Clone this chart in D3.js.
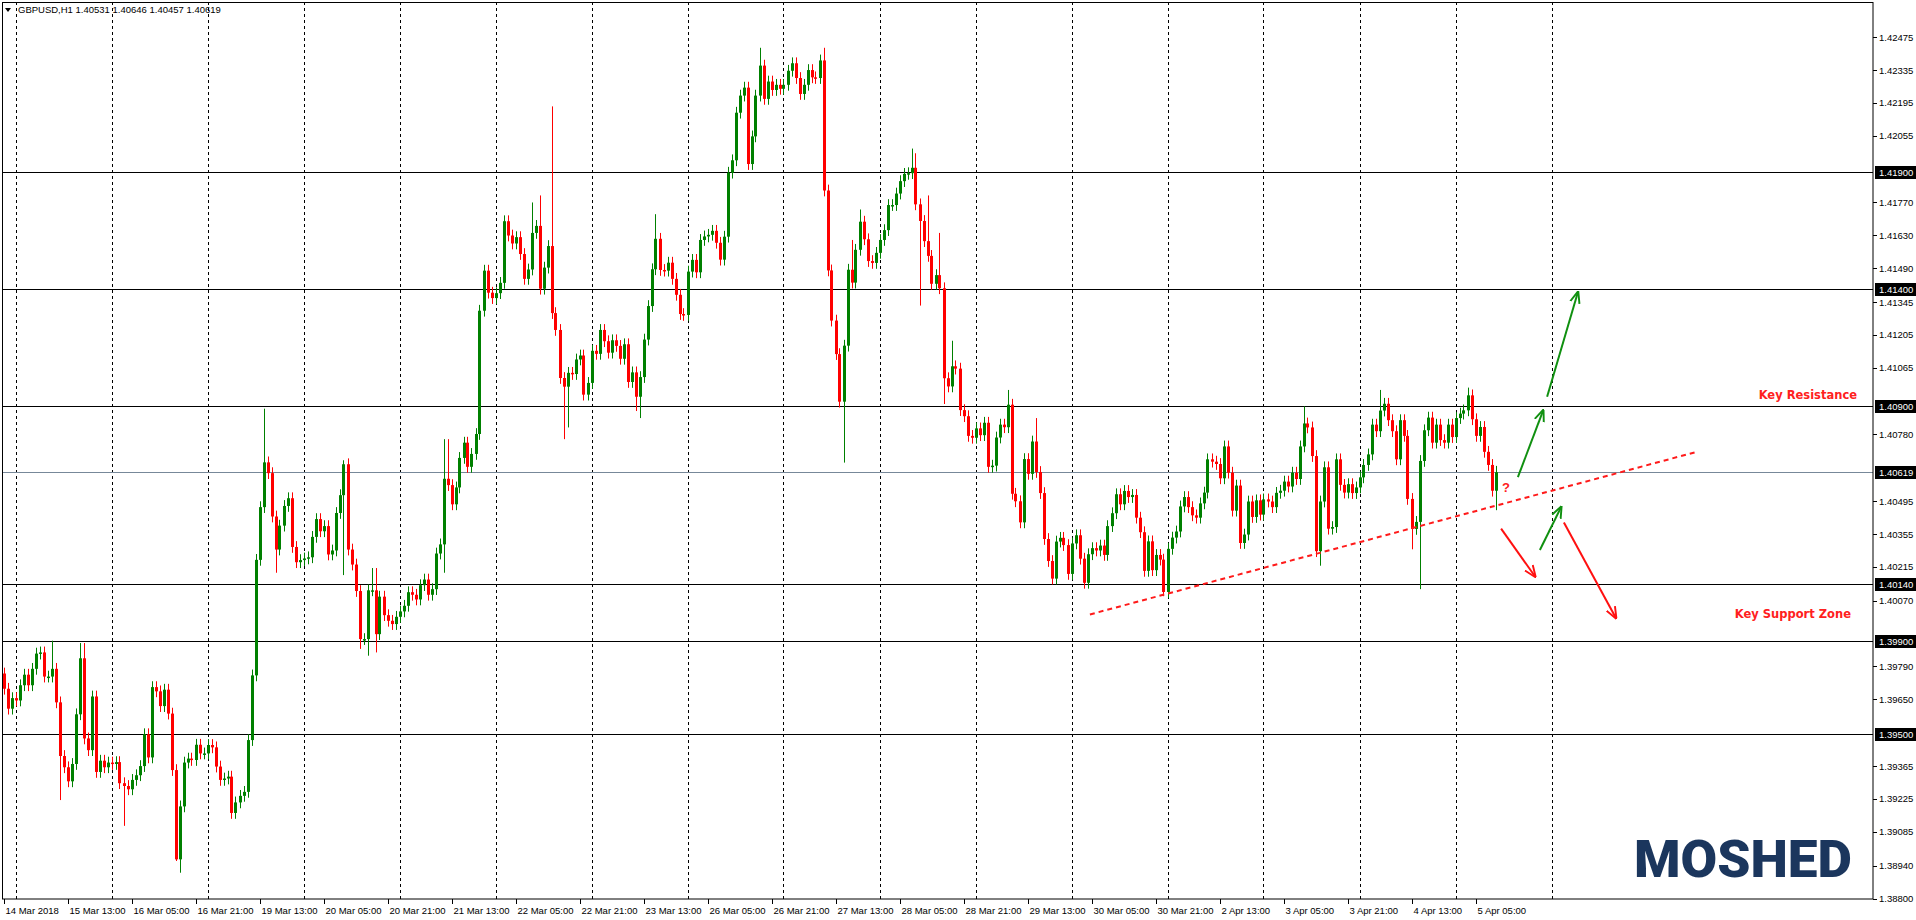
<!DOCTYPE html>
<html>
<head>
<meta charset="utf-8">
<script src="https://cdn.jsdelivr.net/npm/d3@7/dist/d3.min.js"></script>
<style>
  body { margin: 0; background: #fff; }
  svg { display: block; }
</style>
</head>
<body>
<div id="display"></div>
<script>
// GBPUSD H1 closes, in pips above 1.39000 (open = previous close)
const BASE = 1.39;
const firstOpen = 76;
const closesA = [69.5,61,65.5,64.5,71,75.5,71,78,84.5,85,74.7,74.7,78,63.7,40.8,36,30,37.4,58.6,82.5,
  48.3,43.3,66.2,34,38.8,36,38,37.4,38.2,29.2,28,26.6,30.6,32.6,36.5,50.1,40.2,70.2,68.4,62.1,
  69.1,58.9,34.8,-3.3,19.3,38,39.7,39.1,45.6,41.9,41.9,45.5,44.5,36.3,30.6,31.2,32,16.5,21,23.8,
  25.5,47.6,75.2,124.5,147,166.1,161.5,143,128.9,139.1,147.5,150.8,130,123.5,124.4,125.1,125.6,134.3,141.9,136.7,
  138.9,126.8,128.5,144.5,152.1,165.3,128.9,122.5,111.2,90.7,90.7,111.5,111.5,92.8,108.8,100.9,98.5,97.1,100.2,102.5];
const closesB = [104.9,110.7,109.6,107.6,113.7,116.1,109.6,112,127.2,131.1,159.1,156.4,148.2,155.4,168,174.5,164.2,169.7,178.2,230.8,
  247.9,238.5,236.2,238.3,242.7,269,262.9,259.5,262.2,255,244.4,248.4,264,267,240.2,249.2,258.4,229.8,222.6,202.1,
  198.4,204.3,203.8,210,211.7,195,200,213.7,212.4,222.6,217.8,212.9,218.2,215.8,210.3,216.5,200.4,204.5,194.1,202.5,
  218.5,232.8,248.5,261.5,248.2,247.9,251.3,244.4,237.6,229.4,229,247.5,252.5,247.2,261,262.5,263.2,264.9,259.8,252.6,
  262.4,289.7,295,315.3,322.6,326,293.4,305.2,322.6,335.4,321.2,328.6,325,327.2,325.5,327.2,333.2];
const closesC = [336.4,330.1,323.3,327.2,333.5,330.4,330.1,337.6,282.1,248,226.6,212.3,192,215.9,248.3,242.8,256.8,268.8,261.3,252,
  251.2,255.5,261,265.2,275.9,275.9,280.8,286.1,289.2,289.5,291.8,276.2,269.1,260.5,254.2,242.3,246,240.4,202,198.5,
  207.1,206.1,188.4,185.8,177.4,176.6,180.6,177.7,183,164.2,164.7,176.7,182.2,181.1,190.7,152.7,149.5,140.5,167.5,161.2,
  175,162,153,133.4,124,116.5,132.3,133.9,130.8,118.5,131.5,135,125,114.7,126.9,129.5,128.5,130.6,126.6,138.9,
  144.4,152.5,148.2,153.9,151.3,152.2,142.5,136.3,119.8,132.4,120.1,126.6,124.6,110.8,129.2,134,136.6,147.3];
const closesD = [151.3,147,143.5,142.5,148.6,153.2,167.4,166.4,165.4,159.3,172.9,161.7,145.5,156.2,131.7,135.3,149.4,142.8,149.9,143.8,
  150.3,149.4,147,153.1,154,157.9,155.8,161.7,159,172.9,182.7,181,168.8,128.2,149.4,164,137.8,138.5,167.4,156.5,
  153.2,156.8,153,155.4,159.7,165,169.5,182.2,179.4,188.2,191.1,184.1,179.4,167.4,184.1,177.4,150.5,137.7,140.7,166.7,
  179.8,185.2,174.5,182.2,175.6,174.5,182.2,176.9,185,186.9,188.3,194.7,184.5,177.4,181.2,170.6,165,154,161.9];
// long wicks: [bar, high, low] in pips (null = ordinary wick)
const wicks = [[12,90,null],[14,null,22],[19,89,null],[20,89,null],[30,null,11],[43,null,-4],[44,null,-9],
  [65,189,null],[68,null,119],[85,167,118],[89,null,86.5],[91,null,83.6],[92,121,null],[93,121,85],
  [110,176,119],[111,176,null],[132,277,null],[134,280,null],[137,318,null],[140,null,176],[141,null,181],
  [158,null,188],[159,null,185],[163,272,null],[189,343,null],[205,343,null],[210,null,166],[212,261,null],
  [214,274,null],[227,300,null],[228,298,null],[229,null,233],[231,280,null],[234,264,null],[235,null,191],
  [237,218,null],[251,197,null],[258,185,null],[290,null,109],[325,190,null],[329,null,122],[344,197,null],
  [352,null,129],[354,null,112],[366,198,null],[373,164.6,145.7]];

const levels = [1.419, 1.414, 1.409, 1.4014, 1.399, 1.395];
const currentPrice = 1.40619;
const priceTicks = [1.42475,1.42335,1.42195,1.42055,1.41770,1.41630,1.41490,1.41345,1.41205,1.41065,
  1.40780,1.40495,1.40355,1.40215,1.40070,1.39790,1.39650,1.39365,1.39225,1.39085,1.38940,1.38800];
const timeLabels = ["14 Mar 2018","15 Mar 13:00","16 Mar 05:00","16 Mar 21:00","19 Mar 13:00","20 Mar 05:00",
  "20 Mar 21:00","21 Mar 13:00","22 Mar 05:00","22 Mar 21:00","23 Mar 13:00","26 Mar 05:00","26 Mar 21:00",
  "27 Mar 13:00","28 Mar 05:00","28 Mar 21:00","29 Mar 13:00","30 Mar 05:00","30 Mar 21:00","2 Apr 13:00",
  "3 Apr 05:00","3 Apr 21:00","4 Apr 13:00","5 Apr 05:00"];
// annotations: [bar, pips]
const trendline = [[271.6,101.2],[422.9,170.4]];
const greenArrows = [[[378.6,159.8],[384.9,188.2]],[[385.9,194.1],[393.6,238.7]],[[384.1,128.7],[389.4,147]]];
const redArrows = [[[374.4,137.8],[382.9,117.4]],[[390.1,140.4],[403.1,99.7]]];

const W = 1916, H = 920, R = 1873, B = 899;
const font = "'Liberation Sans', Arial, sans-serif";
const closes = closesA.concat(closesB, closesC, closesD);
const wickMap = new Map(wicks.map(w => [w[0], w]));
const bars = closes.map((c, i) => {
  const o = i === 0 ? firstOpen : closes[i - 1];
  const w = wickMap.get(i);
  const hi = w && w[1] != null ? w[1] : Math.max(o, c) + 2.5;
  const lo = w && w[2] != null ? w[2] : Math.min(o, c) - 2.5;
  return { i, o: BASE + o / 1e4, c: BASE + c / 1e4, h: BASE + hi / 1e4, l: BASE + lo / 1e4 };
});

const x = d3.scaleLinear().domain([0, 100]).range([3.5, 403.5]);
const y = d3.scaleLinear().domain([1.388, 1.419]).range([898.5, 172]);
const px = p => BASE + p / 1e4;

const svg = d3.select("#display").append("svg").attr("width", W).attr("height", H);
svg.append("defs").selectAll("marker").data([["g", "#109010"], ["r", "#ff1010"]]).join("marker")
  .attr("id", d => "ar" + d[0]).attr("viewBox", "0 0 10 10").attr("refX", 9).attr("refY", 5)
  .attr("markerWidth", 6).attr("markerHeight", 6).attr("orient", "auto")
  .append("path").attr("d", "M0,1 L10,5 L0,9").attr("fill", "none").attr("stroke", d => d[1]).attr("stroke-width", 1.6);

// grid (midnights)
const gridBars = d3.range(3, 400, 24).filter(b => x(b) < R);
svg.append("g").selectAll("line").data(gridBars).join("line")
  .attr("x1", d => Math.round(x(d)) + 0.5).attr("x2", d => Math.round(x(d)) + 0.5)
  .attr("y1", 2).attr("y2", B).attr("stroke", "#000").attr("stroke-dasharray", "3,3");

// horizontal levels
svg.append("g").selectAll("line").data(levels).join("line")
  .attr("x1", 2).attr("x2", R).attr("y1", d => Math.round(y(d)) + 0.5).attr("y2", d => Math.round(y(d)) + 0.5)
  .attr("stroke", "#000").attr("stroke-width", 1.2);
svg.append("line").attr("x1", 2).attr("x2", R)
  .attr("y1", Math.round(y(currentPrice)) + 0.5).attr("y2", Math.round(y(currentPrice)) + 0.5)
  .attr("stroke", "#778899");

// candles
const cg = svg.append("g");
cg.selectAll("line").data(bars).join("line")
  .attr("x1", d => Math.round(x(d.i)) + 0.5).attr("x2", d => Math.round(x(d.i)) + 0.5)
  .attr("y1", d => y(d.h)).attr("y2", d => y(d.l))
  .attr("stroke", d => d.c >= d.o ? "#008000" : "#ff0000");
cg.selectAll("rect").data(bars).join("rect")
  .attr("x", d => Math.round(x(d.i)) - 1).attr("width", 3)
  .attr("y", d => y(Math.max(d.o, d.c))).attr("height", d => Math.max(1.5, Math.abs(y(d.o) - y(d.c))))
  .attr("fill", d => d.c >= d.o ? "#008000" : "#ff0000");

// trendline and arrows
svg.append("line")
  .attr("x1", x(trendline[0][0])).attr("y1", y(px(trendline[0][1])))
  .attr("x2", x(trendline[1][0])).attr("y2", y(px(trendline[1][1])))
  .attr("stroke", "#ff1a1a").attr("stroke-width", 2).attr("stroke-dasharray", "5,4");
const drawArrows = (data, col, id) => svg.append("g").selectAll("line").data(data).join("line")
  .attr("x1", d => x(d[0][0])).attr("y1", d => y(px(d[0][1])))
  .attr("x2", d => x(d[1][0])).attr("y2", d => y(px(d[1][1])))
  .attr("stroke", col).attr("stroke-width", 2).attr("marker-end", `url(#ar${id})`);
drawArrows(greenArrows, "#109010", "g");
drawArrows(redArrows, "#ff1010", "r");
svg.append("text").attr("x", 1502).attr("y", 492).attr("fill", "#ff2020")
  .attr("font-family", font).attr("font-weight", "bold").attr("font-size", 13).text("?");

// annotations text
svg.append("text").attr("x", 1857).attr("y", 399).attr("text-anchor", "end").attr("fill", "#ff2020")
  .attr("font-family", "'DejaVu Sans', sans-serif").attr("font-weight", "bold").attr("font-size", 11.5).text("Key Resistance");
svg.append("text").attr("x", 1851).attr("y", 618).attr("text-anchor", "end").attr("fill", "#ff2020")
  .attr("font-family", "'DejaVu Sans', sans-serif").attr("font-weight", "bold").attr("font-size", 11.5).text("Key Support Zone");
svg.append("text").attr("x", 1634).attr("y", 877).attr("fill", "#1b365d")
  .attr("font-family", "Roboto, sans-serif").attr("font-weight", 900).attr("font-size", 51)
  .attr("textLength", 218).attr("lengthAdjust", "spacingAndGlyphs").text("MOSHED");

// frame
svg.append("rect").attr("x", 2.5).attr("y", 2.5).attr("width", R - 2.5).attr("height", B - 2.5)
  .attr("fill", "none").attr("stroke", "#000");

// right axis
const ra = svg.append("g");
ra.selectAll("line").data(priceTicks).join("line")
  .attr("x1", R).attr("x2", R + 4).attr("y1", d => Math.round(y(d)) + 0.5).attr("y2", d => Math.round(y(d)) + 0.5)
  .attr("stroke", "#000");
ra.selectAll("text").data(priceTicks).join("text")
  .attr("x", 1879).attr("y", d => y(d) + 3.5).attr("font-family", font).attr("font-size", 9.5)
  .text(d => d.toFixed(5));
const boxes = levels.map(v => ({ v, t: v.toFixed(5) })).concat([{ v: currentPrice, t: currentPrice.toFixed(5) }]);
const bx = svg.append("g").selectAll("g").data(boxes).join("g")
  .attr("transform", d => `translate(1875,${Math.round(y(d.v)) - 6})`);
bx.append("rect").attr("width", 41).attr("height", 13).attr("fill", "#000");
bx.append("text").attr("x", 4).attr("y", 10).attr("fill", "#fff").attr("font-family", font).attr("font-size", 9.5)
  .text(d => d.t);

// bottom axis
const ba = svg.append("g").selectAll("g").data(timeLabels).join("g")
  .attr("transform", (d, i) => `translate(${Math.round(x(i * 16)) + 0.5},${B})`);
ba.append("line").attr("y1", 0).attr("y2", 5).attr("stroke", "#000");
ba.append("text").attr("x", 1).attr("y", 15).attr("font-family", font).attr("font-size", 9.5).text(d => d);

// header
svg.append("path").attr("d", "M5,8 L11,8 L8,12 Z").attr("fill", "#000");
const last = bars[bars.length - 1];
svg.append("text").attr("x", 18).attr("y", 13).attr("font-family", font).attr("font-size", 9.5)
  .text(`GBPUSD,H1  ${(1.40531).toFixed(5)} ${last.h.toFixed(5)} ${last.l.toFixed(5)} ${last.c.toFixed(5)}`);
</script>
</body>
</html>
